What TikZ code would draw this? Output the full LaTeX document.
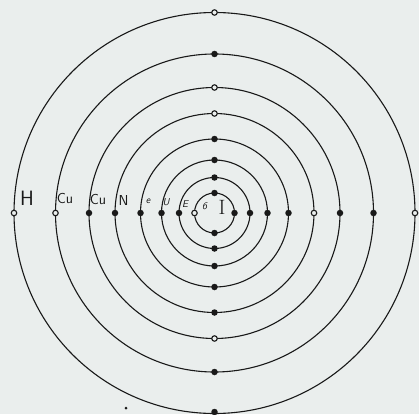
\documentclass[tikz,border=0pt]{standalone}
\usepackage{tikz}
\usetikzlibrary{positioning}
\definecolor{paper}{RGB}{234,238,237}
\definecolor{ink}{RGB}{25,25,25}

\begin{document}
\begin{tikzpicture}[x=1pt, y=-1pt,
  ring/.style={line width=1.1pt, ink},
  fdot/.style={circle, fill=ink, inner sep=0pt, minimum size=6.5pt},
  odot/.style={circle, draw=ink, line width=1.1pt, fill=paper,
               inner sep=0pt, minimum size=5.5pt},
  lbl/.style={font=\sffamily\Large, text=ink, inner sep=0pt},
  small/.style={lbl, font=\sffamily\normalsize\itshape},
]
\fill[paper] (0,0) rectangle (419,414);
\useasboundingbox (0,0) rectangle (419,414);
\coordinate (c) at (214.5,213);

% shells
\draw[ring] (c) circle[radius=200.5];
\draw[ring] (c) circle[radius=159];
\draw[ring] (c) circle[radius=125.5];
\draw[ring] (c) circle[radius=99.5];
\draw[ring] (c) circle[radius=74];
\draw[ring] (c) circle[radius=53];
\draw[ring] (c) circle[radius=35.5];
\draw[ring] (c) circle[radius=20];

% dots on each shell: west, east, north, south
\node[odot] (s8w) at (14,213) {};  \node[odot] (s8e) at (415,213) {};
\node[odot] (s8n) at (214.5,12.5) {}; \node[fdot] (s8s) at (214.5,412) {};
\node[odot] (s7w) at (55.5,213) {}; \node[fdot] (s7e) at (373.5,213) {};
\node[fdot] (s7n) at (214.5,54) {}; \node[fdot] (s7s) at (214.5,372) {};
\node[fdot] (s6w) at (89,213) {};  \node[fdot] (s6e) at (340,213) {};
\node[odot] (s6n) at (214.5,87.5) {}; \node[odot] (s6s) at (214.5,338.5) {};
\node[fdot] (s5w) at (115,213) {}; \node[odot] (s5e) at (314,213) {};
\node[odot] (s5n) at (214.5,113.5) {}; \node[fdot] (s5s) at (214.5,312.5) {};
\node[fdot] (s4w) at (140.5,213) {}; \node[fdot] (s4e) at (288.5,213) {};
\node[fdot] (s4n) at (214.5,139) {}; \node[fdot] (s4s) at (214.5,287) {};
\node[fdot] (s3w) at (161.5,213) {}; \node[fdot] (s3e) at (267.5,213) {};
\node[fdot] (s3n) at (214.5,160) {}; \node[fdot] (s3s) at (214.5,266) {};
\node[fdot] (s2w) at (179,213) {}; \node[fdot] (s2e) at (250,213) {};
\node[fdot] (s2n) at (214.5,177.5) {}; \node[fdot] (s2s) at (214.5,248.5) {};
\node[odot] (s1w) at (194.5,213) {}; \node[fdot] (s1e) at (234.5,213) {};
\node[fdot] (s1n) at (214.5,193) {}; \node[fdot] (s1s) at (214.5,233) {};
\node[circle, fill=ink, inner sep=0pt, minimum size=3pt] (speck) at (126,408) {};

% shell letters
\node[lbl, font=\sffamily\huge] (h) at (27,198) {H};
\node[lbl] (cu1) at (65,199) {Cu};
\node[lbl] (cu2) at (98,200) {Cu};
\node[lbl] (n) at (123.5,201) {N};
\node[small] (e1) at (148,201) {e};
\node[small] (u) at (166,202) {U};
\node[small] (e2) at (185,204) {E};
\node[small] (six) at (204.5,206) {6};
\node[lbl, font=\rmfamily\huge] (core) at (222,207) {I};
\end{tikzpicture}
\end{document}
